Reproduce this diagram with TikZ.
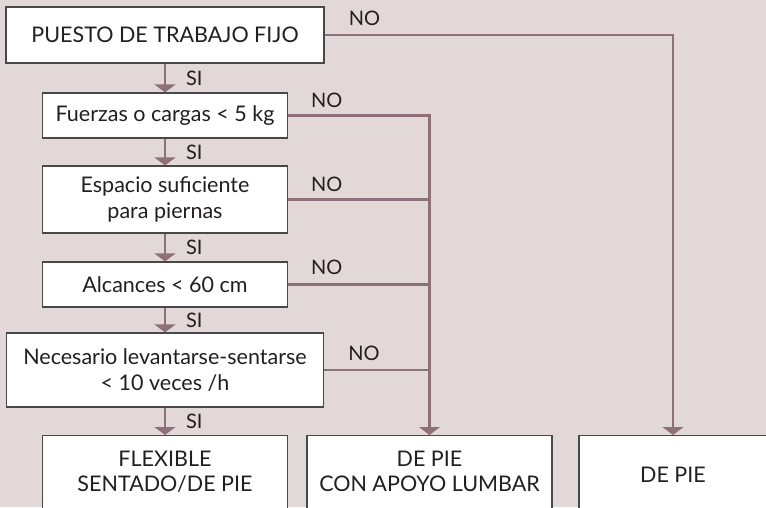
\documentclass[tikz,border=0pt]{standalone}
\usepackage{fontspec}
\setmainfont{Lato}
\usetikzlibrary{arrows.meta,positioning}
\definecolor{fondo}{HTML}{E1D8D7}
\definecolor{malva}{HTML}{8E707B}
\definecolor{borde}{HTML}{4A4748}
\definecolor{texto}{HTML}{231F20}

\begin{document}
\begin{tikzpicture}[x=0.025cm, y=-0.025cm,
    caja/.style={draw=borde, line width=0.8pt, fill=white, text=texto, align=center,
        inner sep=0pt, font=\fontsize{15.3}{18}\selectfont},
    final/.style={caja, anchor=north, inner ysep=0.38cm, text depth=2cm},
    etiq/.style={text=texto, inner sep=0pt, font=\fontsize{14.2}{16}\selectfont},
    si/.style={etiq, right=0.5cm},
    flecha/.style={draw=malva, line width=1.5pt, -{Triangle[width=0.52cm,length=0.2cm]}},
    linea/.style={draw=malva, line width=1.5pt}]
    \useasboundingbox (0,0) rectangle (766,507);
    \fill[fondo] (0,0) rectangle (766,507);
    \clip (0,0) rectangle (766,507);

    \node[caja, minimum width=7.95cm, minimum height=1.4cm] (puesto) at (165,35) {PUESTO DE TRABAJO FIJO};
    \node[caja, minimum width=6.125cm, minimum height=1.125cm] (fuerzas) at (165,115.5) {Fuerzas o cargas < 5 kg};
    \node[caja, minimum width=6.125cm, minimum height=1.675cm] (espacio) at (165,199.5) {Espacio suficiente\\para piernas};
    \node[caja, minimum width=6.125cm, minimum height=1.125cm] (alcances) at (165,284.5) {Alcances < 60 cm};
    \node[caja, minimum width=7.925cm, minimum height=1.85cm] (necesario) at (165,370) {Necesario levantarse-sentarse\\< 10 veces /h};

    \node[final, minimum width=6.125cm] (flexible) at (165,435) {FLEXIBLE\\SENTADO/DE PIE};
    \node[final, minimum width=6.125cm] (apoyo) at (429.5,435) {DE PIE\\CON APOYO LUMBAR};
    \node[final, minimum width=4.7cm, inner ysep=0.8cm] (depie) at (673,435) {DE PIE};

    % respuestas SI
    \draw[flecha] (puesto) -- node[si] {SI} (fuerzas);
    \draw[flecha] (fuerzas) -- node[si] {SI} (espacio);
    \draw[flecha] (espacio) -- node[si] {SI} (alcances);
    \draw[flecha] (alcances) -- node[si] {SI} (necesario);
    \draw[flecha] (necesario) -- node[si] {SI} (flexible);

    % respuestas NO
    \draw[flecha] (puesto.east) -| (depie.north);
    \draw[flecha] (fuerzas.east) -| (apoyo.north);
    \draw[linea] (espacio.east) -- (espacio.east -| apoyo.north);
    \draw[linea] (alcances.east) -- (alcances.east -| apoyo.north);
    \draw[linea] (necesario.east) -- (necesario.east -| apoyo.north);

    \node[etiq, above right=0.22cm and 0.6cm of puesto.east] (no1) {NO};
    \node[etiq, above right=0.18cm and 0.57cm of fuerzas.east] (no2) {NO};
    \node[etiq, above right=0.2cm and 0.57cm of espacio.east] (no3) {NO};
    \node[etiq, above right=0.25cm and 0.57cm of alcances.east] (no4) {NO};
    \node[etiq, above right=0.22cm and 0.6cm of necesario.east] (no5) {NO};
\end{tikzpicture}
\end{document}
